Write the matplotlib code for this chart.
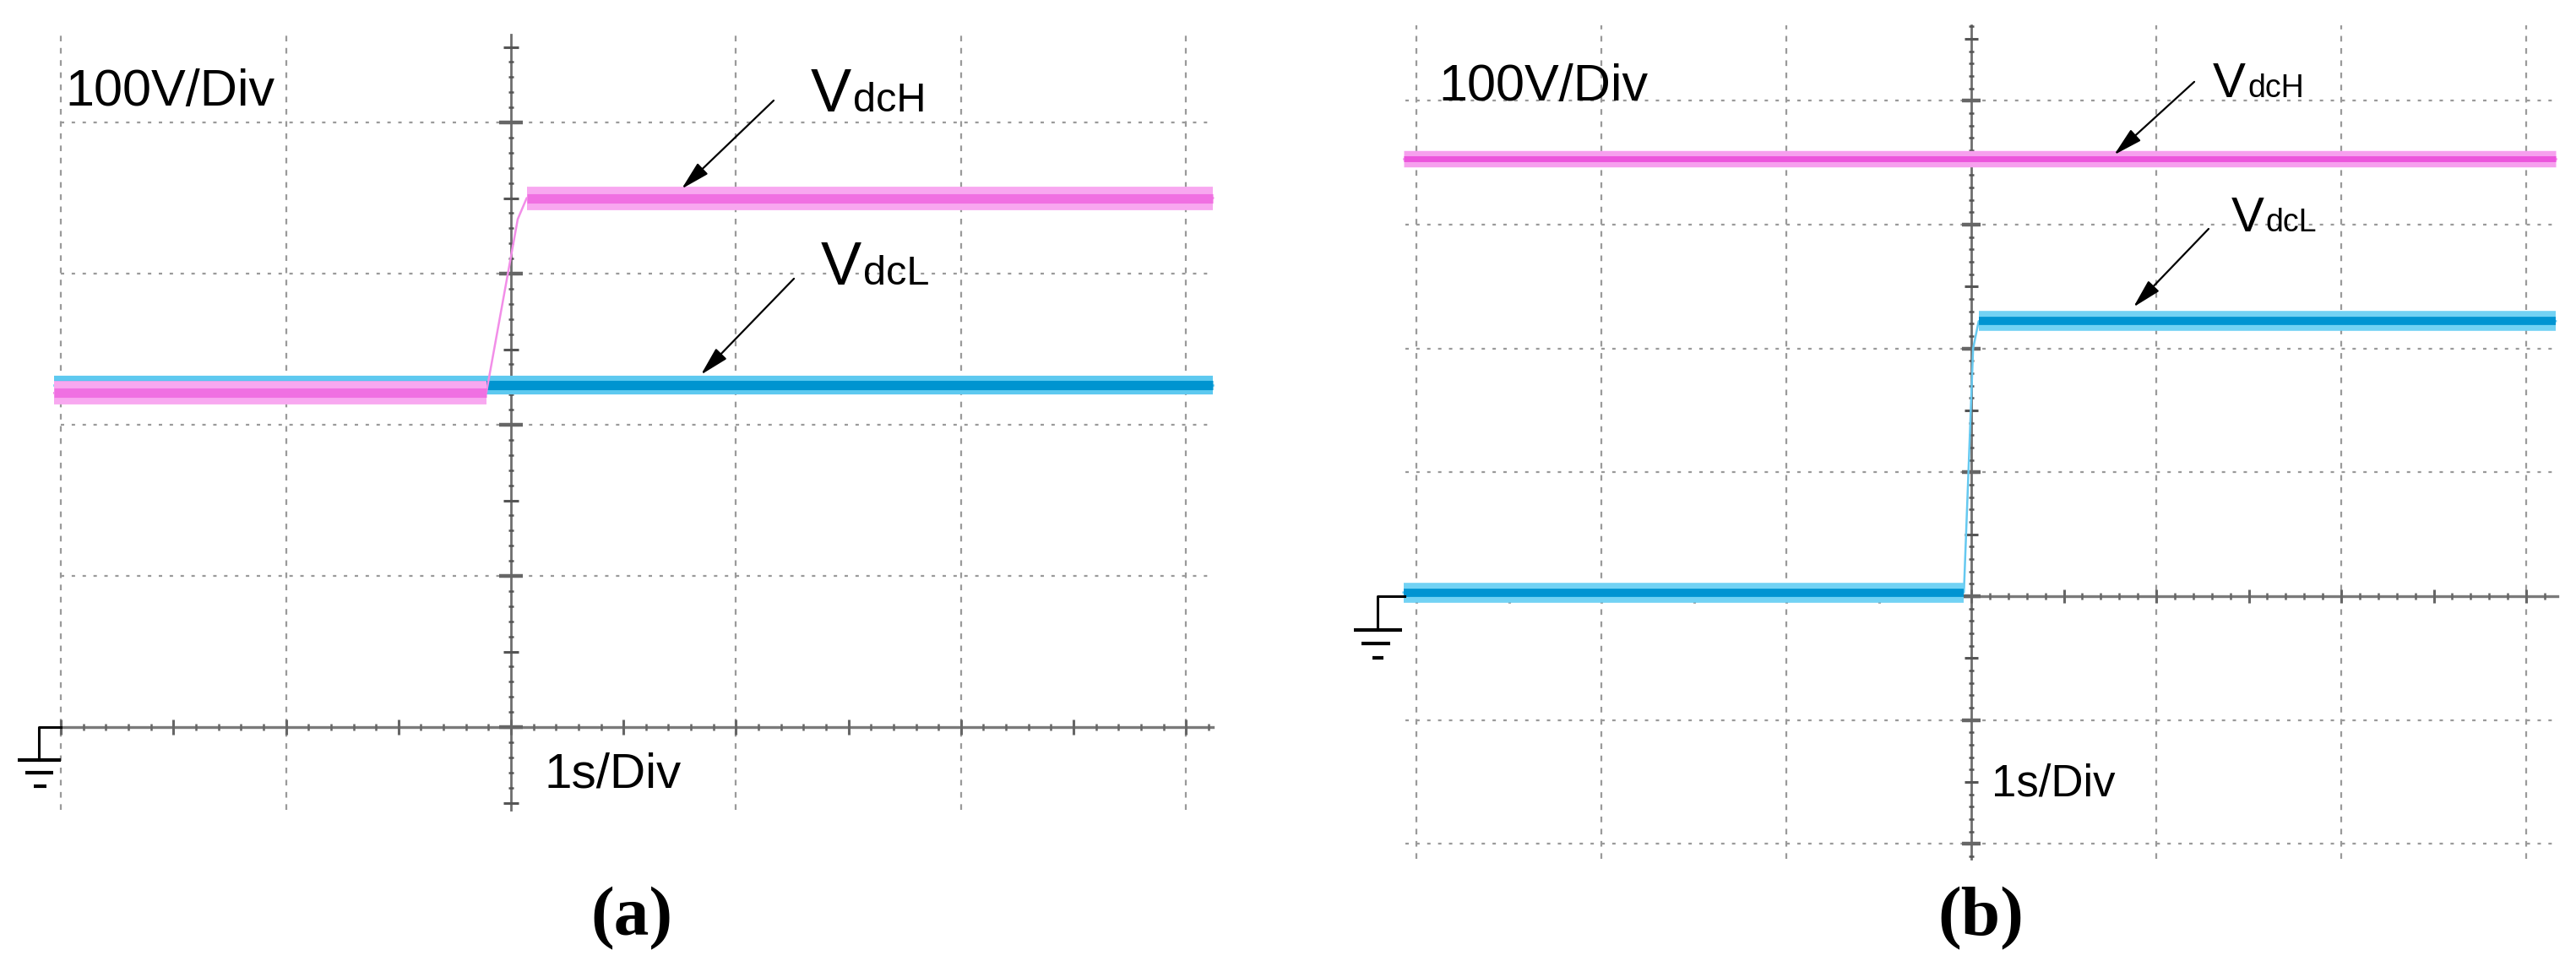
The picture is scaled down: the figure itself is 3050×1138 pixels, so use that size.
import numpy as np
import matplotlib
matplotlib.use("Agg")
import matplotlib.pyplot as plt

W, H = 3050, 1138

# ---------- scope readings (time in s, voltage in V) ----------
# (a) VdcH steps up, VdcL stays
t_a_H = [-2.03, -0.11, 0.03, 0.07, 3.12]
v_a_H = [221, 221, 336, 350, 350]
t_a_L = [-2.03, 3.12]
v_a_L = [226, 226]

# (b) VdcH stays, VdcL steps up from zero
t_b_H = [-3.07, 3.16]
v_b_H = [353, 353]
t_b_L = [-3.07, -0.04, 0.01, 0.04, 3.16]
v_b_L = [3, 3, 200, 222, 222]

sans = ['Liberation Sans Narrow', 'Liberation Sans', 'DejaVu Sans']

fig = plt.figure(figsize=(W / 100, H / 100), dpi=100)
renderer = fig.canvas.get_renderer()


def make_axes(left, top, right, bottom, x0, sx, y0, sy):
    ax = fig.add_axes([left / W, 1 - bottom / H, (right - left) / W, (bottom - top) / H])
    ax.set_xlim((left - x0) / sx, (right - x0) / sx)
    ax.set_ylim((y0 - bottom) / sy, (y0 - top) / sy)
    ax.axis('off')
    return ax


def screen(ax, vlines, hlines, t_rng, v_rng, t_axis, v_axis, ms):
    for t in vlines:
        ax.plot([t, t], v_rng, color='#9a9a9a', lw=1.6, dashes=(3, 3.5))
    for v in hlines:
        ax.plot(t_rng, [v, v], color='#9a9a9a', lw=1.6, dashes=(1.8, 4))
    # centre axes
    ax.plot([0, 0], v_rng, color='#6e6e6e', lw=2)
    ax.plot(t_axis, [0, 0], color='#7a7a7a', lw=2.4)
    vt = np.arange(v_axis[0], v_axis[1] + 1, 10)
    ax.plot(np.zeros_like(vt), vt, ls='none', marker='_', ms=ms[0], mew=1.8, color='#555555')
    vh = vt[vt % 50 == 0]
    ax.plot(np.zeros_like(vh), vh, ls='none', marker='_', ms=ms[1], mew=2.2, color='#555555')
    vg = vt[vt % 100 == 0]
    ax.plot(np.zeros_like(vg), vg, ls='none', marker='_', ms=ms[2], mew=3.2, color='#666666')
    tt = np.round(np.arange(np.ceil(t_axis[0] * 10) / 10, t_axis[1], 0.1), 1)
    ax.plot(tt, np.zeros_like(tt), ls='none', marker='|', ms=ms[0] + 1, mew=1.8, color='#666666')
    th = tt[np.isclose(tt * 2, np.round(tt * 2))]
    ax.plot(th, np.zeros_like(th), ls='none', marker='|', ms=ms[1], mew=2.2, color='#666666')


def trace(ax, t, v, halo, core, lw_halo, lw_core, thin):
    t = np.asarray(t)
    v = np.asarray(v)
    ax.plot(t, v, color=thin, lw=1.8)
    for i in range(len(t) - 1):
        if v[i] == v[i + 1]:
            ax.plot(t[i:i + 2], v[i:i + 2], color=halo, lw=lw_halo, solid_capstyle='butt')
            ax.plot(t[i:i + 2], v[i:i + 2], color=core, lw=lw_core, solid_capstyle='butt')


def ground(ax, xs, ys, bars):
    ax.plot([xs[1], xs[0], xs[0]], [0, 0, ys], color='black', lw=2.2)
    for (xa, xb, yb) in bars:
        ax.plot([xa, xb], [yb, yb], color='black', lw=3, solid_capstyle='butt')


def label(ax, xv, y, sub, big, small, tail, tip):
    tv = ax.text(xv, y, 'V', fontsize=big, family=sans, ha='left', va='baseline')
    bb = tv.get_window_extent(renderer)
    xs = ax.transData.inverted().transform((bb.x1 + 2, 0))[0]
    ax.text(xs, y, sub, fontsize=small, family=sans, ha='left', va='baseline')
    ax.annotate('', xy=tip, xytext=tail,
                arrowprops=dict(arrowstyle='-|>,head_length=0.7,head_width=0.18',
                                color='black', lw=1.6, mutation_scale=30))


# ---------- (a) ----------
ax_a = make_axes(0, 20, 1480, 980, 605, 266.4, 861, 1.79)
screen(ax_a, [-2, -1, 1, 2, 3], [100, 200, 300, 400], [-2.0, 3.12], [-55, 458],
       [-2.0, 3.12], [-50, 450], (5, 13, 20))
trace(ax_a, t_a_L, v_a_L, '#5ec9f0', '#0094d0', 16, 8, '#5ec9f0')
trace(ax_a, t_a_H, v_a_H, '#f8a8f0', '#f070e2', 20, 8, '#f28ee8')
ground(ax_a, [-2.098, -2.0], -21.8,
       [(-2.192, -2.0, -21.8), (-2.158, -2.035, -30.2), (-2.121, -2.065, -39.1)])
ax_a.text(-1.982, 411, '100V/Div', fontsize=44, family=sans, ha='left', va='baseline')
ax_a.text(0.15, -39.7, '1s/Div', fontsize=42, family=sans, ha='left', va='baseline')
label(ax_a, 1.333, 407, 'dcH', 52, 35, (1.175, 415.6), (0.751, 355))
label(ax_a, 1.378, 293, 'dcL', 52, 35, (1.265, 297.8), (0.837, 232))

# ---------- (b) ----------
ax_b = make_axes(1560, 10, 3050, 1030, 2334, 219, 706, 1.467)
screen(ax_b, [-3, -2, -1, 1, 2, 3], [-200, -100, 100, 200, 300, 400], [-3.06, 3.16],
       [-212, 461], [-3.06, 3.17], [-210, 460], (5, 12, 16))
trace(ax_b, t_b_H, v_b_H, '#f6a0ee', '#ec55dc', 14, 5, '#f48ae8')
trace(ax_b, t_b_L, v_b_L, '#72d2f4', '#0094d2', 17, 7, '#66c9f0')
ground(ax_b, [-3.21, -3.064], -27.3,
       [(-3.338, -3.078, -27.3), (-3.297, -3.142, -38.2), (-3.237, -3.18, -49.8)])
ax_b.text(-2.881, 400, '100V/Div', fontsize=44, family=sans, ha='left', va='baseline')
ax_b.text(0.11, -161, '1s/Div', fontsize=38, family=sans, ha='left', va='baseline')
label(ax_b, 1.306, 403, 'dcH', 42, 27, (1.215, 416.5), (0.763, 355))
label(ax_b, 1.406, 294.5, 'dcL', 42, 27, (1.292, 297.9), (0.868, 232))

# ---------- captions ----------
serif = ['Liberation Serif', 'DejaVu Serif']
fig.text(748 / W, 1 - 1088 / H, '(a)', fontsize=60, family=serif, fontweight='bold',
         ha='center', va='center')
fig.text(2345 / W, 1 - 1088 / H, '(b)', fontsize=60, family=serif, fontweight='bold',
         ha='center', va='center')

fig.savefig('out.png', dpi=100, facecolor='white')
